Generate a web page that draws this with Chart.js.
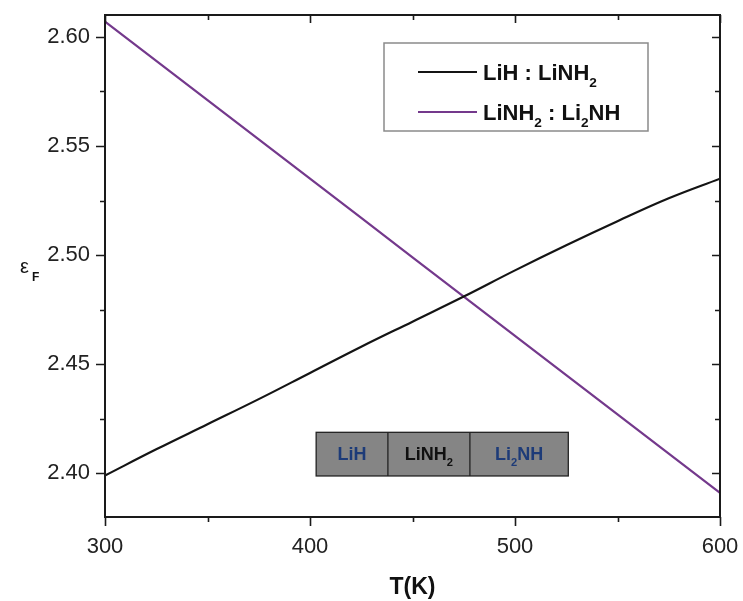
<!DOCTYPE html>
<html>
<head>
<meta charset="utf-8">
<script src="https://cdn.jsdelivr.net/npm/chart.js@4.4.1/dist/chart.umd.min.js"></script>
<style>
  html, body { margin: 0; padding: 0; background: #ffffff; }
  #wrap { width: 743px; height: 601px; position: relative; }
</style>
</head>
<body>
<div id="wrap"><canvas id="c" width="743" height="601"></canvas></div>
<script>
// Temperature grid (K)
const temps = [300, 325, 350, 375, 400, 425, 450, 475, 500, 525, 550, 575, 600];
// Fermi level for the LiH : LiNH2 interface
const lihLinh2 = [2.399, 2.411, 2.4225, 2.434, 2.446, 2.458, 2.4695, 2.481, 2.493, 2.5045, 2.5155, 2.526, 2.535];
// Fermi level for the LiNH2 : Li2NH interface
const linh2Li2nh = [2.607, 2.589, 2.571, 2.553, 2.535, 2.517, 2.499, 2.481, 2.463, 2.445, 2.427, 2.409, 2.391];

const xTicks = [300, 400, 500, 600];
const xMinor = [350, 450, 550];
const yTicks = [2.40, 2.45, 2.50, 2.55, 2.60];
const yMinor = [2.425, 2.475, 2.525, 2.575];

// Phase band: segment boundaries in T and the band's ε range
const phaseEdges = [403, 438, 478, 526];
const phaseNames = [
  { base: 'LiH', color: '#1d3b78' },
  { base: 'LiNH', sub: '2', color: '#111111' },
  { base: 'Li', sub: '2', tail: 'NH', color: '#1d3b78' }
];
const phaseRange = [2.3988, 2.4188];

const FONT = '"Liberation Sans", Arial, Helvetica, sans-serif';

// draw text with optional subscript, starting at x (left), baseline y
function drawRich(ctx, x, y, parts, size, bold, color) {
  ctx.fillStyle = color;
  ctx.textBaseline = 'alphabetic';
  ctx.textAlign = 'left';
  let cx = x;
  for (const p of parts) {
    const s = p.sub ? size * 0.62 : size;
    ctx.font = (bold ? 'bold ' : '') + s + 'px ' + FONT;
    ctx.fillText(p.t, cx, y + (p.sub ? size * 0.3 : 0));
    cx += ctx.measureText(p.t).width;
  }
  return cx - x;
}
function richWidth(ctx, parts, size, bold) {
  let w = 0;
  for (const p of parts) {
    const s = p.sub ? size * 0.62 : size;
    ctx.font = (bold ? 'bold ' : '') + s + 'px ' + FONT;
    w += ctx.measureText(p.t).width;
  }
  return w;
}

const framePlugin = {
  id: 'frame',
  afterDatasetsDraw(chart) {
    const ctx = chart.ctx;
    const a = chart.chartArea;
    const xs = chart.scales.x, ys = chart.scales.y;
    ctx.save();
    ctx.strokeStyle = '#1a1a1a';
    ctx.lineWidth = 2;
    ctx.lineCap = 'butt';
    // frame
    ctx.strokeRect(a.left, a.top, a.right - a.left, a.bottom - a.top);
    ctx.lineWidth = 1.6;
    ctx.beginPath();
    for (const v of xTicks) {
      const px = Math.round(xs.getPixelForValue(v)) + 0.5;
      ctx.moveTo(px, a.bottom); ctx.lineTo(px, a.bottom + 9);
      ctx.moveTo(px, a.top); ctx.lineTo(px, a.top + 8);
    }
    for (const v of xMinor) {
      const px = Math.round(xs.getPixelForValue(v)) + 0.5;
      ctx.moveTo(px, a.bottom); ctx.lineTo(px, a.bottom + 5);
      ctx.moveTo(px, a.top); ctx.lineTo(px, a.top + 5);
    }
    for (const v of yTicks) {
      const py = Math.round(ys.getPixelForValue(v)) + 0.5;
      ctx.moveTo(a.left, py); ctx.lineTo(a.left - 9, py);
      ctx.moveTo(a.right, py); ctx.lineTo(a.right - 8, py);
    }
    for (const v of yMinor) {
      const py = Math.round(ys.getPixelForValue(v)) + 0.5;
      ctx.moveTo(a.left, py); ctx.lineTo(a.left - 5, py);
      ctx.moveTo(a.right, py); ctx.lineTo(a.right - 5, py);
    }
    ctx.stroke();

    // phase band
    const bx0 = xs.getPixelForValue(phaseEdges[0]);
    const bx1 = xs.getPixelForValue(phaseEdges[phaseEdges.length - 1]);
    const by0 = ys.getPixelForValue(phaseRange[1]);
    const by1 = ys.getPixelForValue(phaseRange[0]);
    ctx.fillStyle = '#858585';
    ctx.fillRect(bx0, by0, bx1 - bx0, by1 - by0);
    ctx.strokeStyle = '#222222';
    ctx.lineWidth = 1.3;
    ctx.strokeRect(bx0, by0, bx1 - bx0, by1 - by0);
    ctx.beginPath();
    for (let i = 1; i < phaseEdges.length - 1; i++) {
      const px = xs.getPixelForValue(phaseEdges[i]);
      ctx.moveTo(px, by0); ctx.lineTo(px, by1);
    }
    ctx.stroke();
    for (let i = 0; i < phaseNames.length; i++) {
      const n = phaseNames[i];
      const parts = [{ t: n.base }];
      if (n.sub) parts.push({ t: n.sub, sub: true });
      if (n.tail) parts.push({ t: n.tail });
      const l = xs.getPixelForValue(phaseEdges[i]);
      const r = xs.getPixelForValue(phaseEdges[i + 1]);
      const w = richWidth(ctx, parts, 18, true);
      drawRich(ctx, (l + r) / 2 - w / 2, (by0 + by1) / 2 + 6, parts, 18, true, n.color);
    }

    // legend
    const lx = 384, ly = 43, lw = 264, lh = 88;
    ctx.fillStyle = '#ffffff';
    ctx.fillRect(lx, ly, lw, lh);
    ctx.strokeStyle = '#8a8a8a';
    ctx.lineWidth = 1.5;
    ctx.strokeRect(lx, ly, lw, lh);
    const entries = [
      { color: '#141414', parts: [{ t: 'LiH : LiNH' }, { t: '2', sub: true }] },
      { color: '#74398c', parts: [{ t: 'LiNH' }, { t: '2', sub: true }, { t: ' : Li' }, { t: '2', sub: true }, { t: 'NH' }] }
    ];
    entries.forEach((e, i) => {
      const cy = 72 + i * 40;
      ctx.strokeStyle = e.color;
      ctx.lineWidth = 2.2;
      ctx.beginPath();
      ctx.moveTo(418, cy); ctx.lineTo(477, cy);
      ctx.stroke();
      drawRich(ctx, 483, cy + 8, e.parts, 22, true, '#111111');
    });

    // axis titles
    ctx.fillStyle = '#111111';
    ctx.font = 'bold 23px ' + FONT;
    ctx.textAlign = 'center';
    ctx.textBaseline = 'alphabetic';
    ctx.fillText('T(K)', (a.left + a.right) / 2, 594);
    ctx.textAlign = 'left';
    ctx.font = '20px ' + FONT;
    ctx.fillText('\u03B5', 20, 273);
    ctx.font = 'bold 12px ' + FONT;
    ctx.fillText('F', 32, 281);
    ctx.restore();
  }
};

// drop the label-overhang padding so the plot box follows layout.padding
function noOverhang(s) {
  s.paddingTop = 0; s.paddingBottom = 0; s.paddingLeft = 0; s.paddingRight = 0;
}

new Chart(document.getElementById('c'), {
  type: 'line',
  data: {
    labels: temps,
    datasets: [
      {
        label: 'LiH : LiNH2',
        data: temps.map((t, i) => ({ x: t, y: lihLinh2[i] })),
        borderColor: '#141414',
        borderWidth: 2.2,
        pointRadius: 0,
        tension: 0.4,
        fill: false
      },
      {
        label: 'LiNH2 : Li2NH',
        data: temps.map((t, i) => ({ x: t, y: linh2Li2nh[i] })),
        borderColor: '#74398c',
        borderWidth: 2.2,
        pointRadius: 0,
        tension: 0,
        fill: false
      }
    ]
  },
  options: {
    responsive: false,
    animation: false,
    devicePixelRatio: 1,
    layout: { padding: { left: 0, right: 23, top: 15, bottom: 0 } },
    plugins: { legend: { display: false }, tooltip: { enabled: false } },
    scales: {
      x: {
        type: 'linear',
        min: 300, max: 600,
        grid: { display: false, drawTicks: false },
        border: { display: false },
        afterBuildTicks(s) { s.ticks = xTicks.map(v => ({ value: v })); },
        afterFit(s) { s.height = 84; noOverhang(s); },
        ticks: {
          padding: 17,
          color: '#222222',
          font: { family: FONT, size: 22 },
          maxRotation: 0,
          callback: v => String(v)
        }
      },
      y: {
        min: 2.38, max: 2.61,
        grid: { display: false, drawTicks: false },
        border: { display: false },
        afterBuildTicks(s) { s.ticks = yTicks.map(v => ({ value: v })); },
        afterFit(s) { s.width = 105; noOverhang(s); },
        ticks: {
          padding: 15,
          color: '#222222',
          font: { family: FONT, size: 22 },
          callback: v => v.toFixed(2)
        }
      }
    }
  },
  plugins: [framePlugin]
});
</script>
</body>
</html>
